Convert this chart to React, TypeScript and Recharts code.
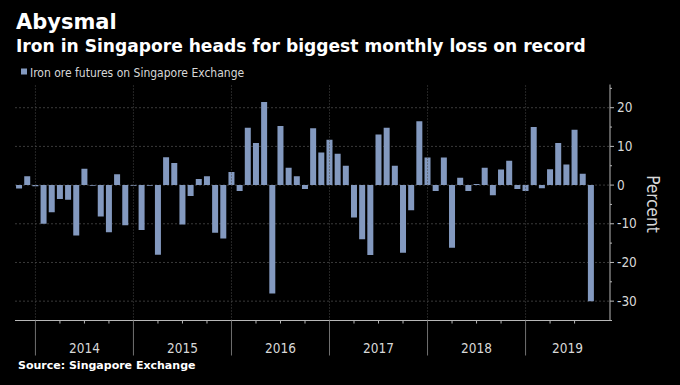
import React from 'react';

import { Bar, BarChart, CartesianGrid, ReferenceLine, XAxis, YAxis } from 'recharts';

// monthly % change, Oct 2013 .. Aug 2019
const values2013 = [-0.9, 2.3, -0.3]; // Oct-Dec
const values2014 = [-10.0, -7.0, -3.6, -3.8, -13.0, 4.2, -0.2, -8.1, -12.2, 2.8, -10.4, -0.2];
const values2015 = [-11.6, -0.2, -18.0, 7.2, 5.7, -10.2, -2.8, 1.6, 2.3, -12.3, -13.8, 3.4];
const values2016 = [-1.5, 14.8, 10.9, 21.5, -28.0, 15.3, 4.5, 2.3, -1.0, 14.7, 8.4, 11.7];
const values2017 = [8.1, 5.0, -8.4, -14.0, -18.1, 13.1, 14.8, 5.0, -17.5, -6.5, 16.5, 7.1];
const values2018 = [-1.5, 7.1, -16.2, 1.9, -1.5, 0.3, 4.5, -2.6, 4.0, 6.3, -1.0, -1.5];
const values2019 = [15.0, -0.8, 4.1, 10.9, 5.3, 14.3, 2.9, -30.0]; // Jan-Aug

const yearBlocks: { year: string; firstMonth: number; values: number[] }[] = [
  { year: '2013', firstMonth: 10, values: values2013 },
  { year: '2014', firstMonth: 1, values: values2014 },
  { year: '2015', firstMonth: 1, values: values2015 },
  { year: '2016', firstMonth: 1, values: values2016 },
  { year: '2017', firstMonth: 1, values: values2017 },
  { year: '2018', firstMonth: 1, values: values2018 },
  { year: '2019', firstMonth: 1, values: values2019 },
];

const yTicks = [-35, -30, -25, -20, -15, -10, -5, 0, 5, 10, 15, 20, 25];
const gridValues = [-30, -20, -10, 0, 10, 20];

const data = yearBlocks.flatMap((b) =>
  b.values.map((v, i) => ({
    month: `${b.year}-${String(b.firstMonth + i).padStart(2, '0')}`,
    value: v,
  })),
);
const separators = data.map((d) => d.month).filter((m) => m.endsWith('-12'));

const BAR_COLOR = '#8399bf';
const AXIS_COLOR = '#b8b8b8';
const LABEL_COLOR = '#d8d8d8';
const COND = "'DejaVu Sans Condensed', 'Liberation Sans Narrow', 'DejaVu Sans', sans-serif";
const BOLD = "'DejaVu Sans', sans-serif";

function MonthTick(props: any) {
  const { x, y, payload } = props;
  const [yr, mo] = String(payload.value).split('-');
  const m = Number(mo);
  if (m % 3 !== 0) return <g />;
  return (
    <g>
      {m === 12 ? (
        <line x1={x} x2={x} y1={y} y2={y + 35} stroke="#707070" />
      ) : (
        <line x1={x} x2={x} y1={y} y2={y + 3} stroke={AXIS_COLOR} />
      )}
      {m === 6 && (
        <text
          x={x + (yr === '2019' ? -7 : 0)}
          y={y + 32.5}
          textAnchor="middle"
          fill={LABEL_COLOR}
          fontFamily={COND}
          fontSize={13.5}
        >
          {yr}
        </text>
      )}
    </g>
  );
}

function PercentTick(props: any) {
  const { x, y, payload } = props;
  const v = payload.value;
  const major = v % 10 === 0;
  return (
    <g>
      <line x1={x} x2={x + (major ? 4 : 2)} y1={y} y2={y} stroke={AXIS_COLOR} />
      {major && (
        <text x={x + 7} y={y + 4.7} fill={LABEL_COLOR} fontFamily={COND} fontSize={13.5}>
          {v}
        </text>
      )}
    </g>
  );
}

export default function App() {
  return (
    <div style={{ position: 'absolute', left: 0, top: 0, width: 680, height: 385, background: '#000' }}>
      <BarChart
        width={680}
        height={385}
        data={data}
        barCategoryGap="13%"
        margin={{ top: 84.5, right: 30, bottom: 29.5, left: 15 }}
      >
        <CartesianGrid
          vertical={false}
          horizontalValues={gridValues}
          stroke="#3a3a3a"
          strokeDasharray="2 2"
        />
        {separators.map((m) => (
          <ReferenceLine key={m} x={m} stroke="#4a4a4a" strokeDasharray="1 2" />
        ))}
        <XAxis
          dataKey="month"
          interval={0}
          height={35}
          tickSize={0}
          tickMargin={0}
          padding={{ left: 0, right: 15 }}
          axisLine={{ stroke: AXIS_COLOR }}
          tickLine={false}
          tick={<MonthTick />}
        />
        <YAxis
          orientation="right"
          width={40}
          type="number"
          domain={[-35, 26]}
          ticks={yTicks}
          interval={0}
          allowDataOverflow
          tickSize={0}
          tickMargin={0}
          axisLine={{ stroke: AXIS_COLOR }}
          tickLine={false}
          tick={<PercentTick />}
        />
        <Bar dataKey="value" fill={BAR_COLOR} isAnimationActive={false} />
      </BarChart>
      <svg
        width={680}
        height={385}
        style={{ position: 'absolute', left: 0, top: 0, pointerEvents: 'none' }}
      >
        <text x={16} y={28.5} fill="#fff" fontFamily={BOLD} fontWeight="bold" fontSize={21}>
          Abysmal
        </text>
        <text x={16} y={51.5} fill="#fff" fontFamily={BOLD} fontWeight="bold" fontSize={17.1}>
          Iron in Singapore heads for biggest monthly loss on record
        </text>
        <rect x={21} y={68.5} width={6} height={6} fill={BAR_COLOR} />
        <text x={30} y={76.5} fill={LABEL_COLOR} fontFamily={COND} fontSize={12}>
          Iron ore futures on Singapore Exchange
        </text>
        <text
          x={647}
          y={204}
          transform="rotate(90 647 204)"
          textAnchor="middle"
          fill={LABEL_COLOR}
          fontFamily={COND}
          fontSize={17}
        >
          Percent
        </text>
        <text x={18} y={369} fill="#fff" fontFamily={BOLD} fontWeight="bold" fontSize={11}>
          Source: Singapore Exchange
        </text>
      </svg>
    </div>
  );
}
